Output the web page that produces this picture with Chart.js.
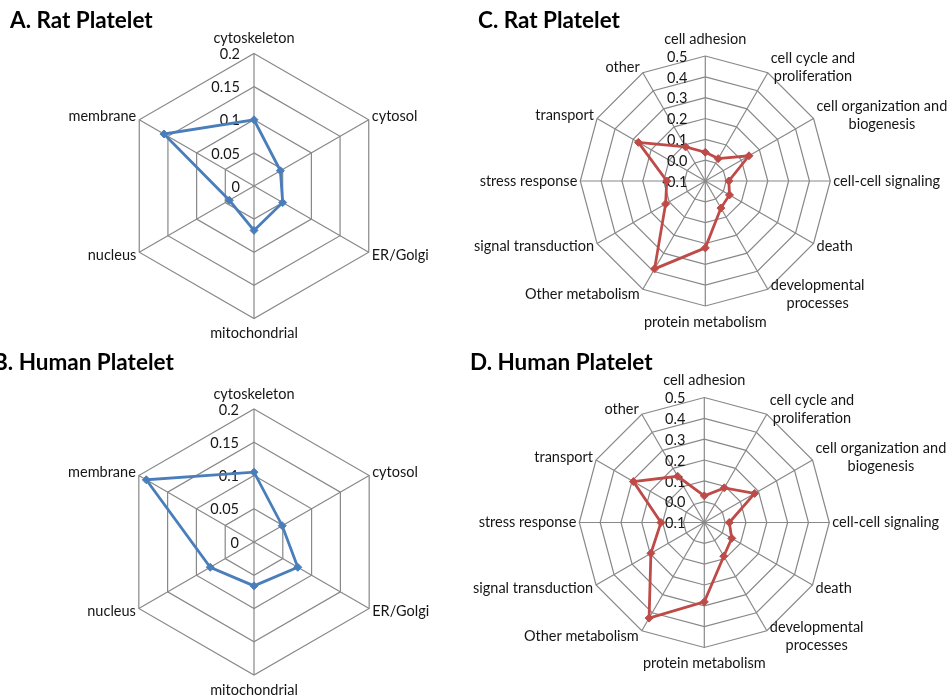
<!DOCTYPE html>
<html>
<head>
<meta charset="utf-8">
<script src="https://cdn.jsdelivr.net/npm/chart.js@4.4.1/dist/chart.umd.min.js"></script>
<style>
  html, body { margin: 0; padding: 0; background: #ffffff; overflow: hidden; }
  body { width: 949px; height: 698px; position: relative; }
  canvas { position: absolute; }
</style>
</head>
<body>
<canvas id="cA" width="470" height="345" style="left:0px;top:0px;"></canvas>
<canvas id="cC" width="479" height="345" style="left:470px;top:0px;"></canvas>
<canvas id="cB" width="480" height="353" style="left:-10px;top:345px;"></canvas>
<canvas id="cD" width="479" height="353" style="left:470px;top:345px;"></canvas>
<script>
// ---------- data ----------
const compartmentLabels = ['cytoskeleton', 'cytosol', 'ER/Golgi', 'mitochondrial', 'nucleus', 'membrane'];
const ratCompartment   = [0.100, 0.046, 0.050, 0.067, 0.043, 0.157];
const humanCompartment = [0.105, 0.049, 0.076, 0.066, 0.076, 0.187];
const compartmentTickValues = [0, 0.05, 0.1, 0.15, 0.2];
const compartmentTickLabels = ['0', '0.05', '0.1', '0.15', '0.2'];

const processLabels = [
  'cell adhesion',
  ['cell cycle and', 'proliferation'],
  ['cell organization and', 'biogenesis'],
  'cell-cell signaling',
  'death',
  ['developmental', 'processes'],
  'protein metabolism',
  'Other metabolism',
  'signal transduction',
  'stress response',
  'transport',
  'other'
];
const ratProcess   = [0.038, 0.024, 0.142, 0.013, 0.034, 0.050, 0.221, 0.387, 0.120, 0.085, 0.271, 0.089];
const humanProcess = [0.028, 0.092, 0.179, 0.020, 0.052, 0.087, 0.281, 0.430, 0.196, 0.108, 0.293, 0.156];
const processTickValues = [-0.1, 0.0, 0.1, 0.2, 0.3, 0.4, 0.5];
const processTickLabels = ['-0.1', '0.0', '0.1', '0.2', '0.3', '0.4', '0.5'];

const titles = ['A. Rat Platelet', 'B. Human Platelet', 'C. Rat Platelet', 'D. Human Platelet'];

// ---------- styles ----------
const BLUE = '#4A7EBB';
const RED = '#BE4B48';
const GRID = '#888888';
const TEXT = '#151515';
const FONT = 'Lato, "Open Sans", sans-serif';
const LABEL_SIZE = 14.5;

const radarText = {
  id: 'radarText',
  beforeDatasetsDraw(chart, args, o) {
    const s = chart.scales.r;
    const ctx = chart.ctx;
    ctx.save();
    ctx.font = LABEL_SIZE + 'px ' + FONT;
    ctx.fillStyle = TEXT;
    ctx.textBaseline = 'middle';
    ctx.textAlign = 'right';
    o.tickValues.forEach((v, k) => {
      const d = s.getDistanceFromCenterForValue(v);
      ctx.fillText(o.tickLabels[k], s.xCenter - o.tickGap, s.yCenter - d + 1);
    });
    const labels = chart.data.labels;
    const n = labels.length;
    const LH = 18;
    labels.forEach((lab, i) => {
      const lines = Array.isArray(lab) ? lab : [lab];
      const p = s.getPointPosition(i, s.drawingArea);
      const ang = i * 360 / n;
      const h = lines.length * LH;
      const w = Math.max(...lines.map(l => ctx.measureText(l).width));
      let tx, ty;
      if (ang === 0) { tx = p.x; ty = p.y - o.topGap; }
      else if (ang === 180) { tx = p.x; ty = p.y + o.bottomGap; }
      else if (ang < 180) { tx = p.x + 3 + w / 2; ty = p.y - 6 * Math.cos(ang * Math.PI / 180); }
      else { tx = p.x - 3 - w / 2; ty = p.y - 6 * Math.cos(ang * Math.PI / 180); }
      ctx.textAlign = 'center';
      lines.forEach((l, k) => ctx.fillText(l, tx, ty - h / 2 + LH / 2 + k * LH));
    });
    ctx.restore();
  }
};

function makeChart(id, title, labels, values, color, min, max, tickValues, tickLabels, geom) {
  return new Chart(document.getElementById(id), {
    type: 'radar',
    data: {
      labels: labels,
      datasets: [{
        data: values,
        borderColor: color,
        backgroundColor: 'transparent',
        borderWidth: 2.8,
        fill: false,
        clip: false,
        pointStyle: 'rectRot',
        pointRadius: 4,
        pointBackgroundColor: color,
        pointBorderColor: color,
        pointBorderWidth: 1
      }]
    },
    options: {
      responsive: false,
      animation: false,
      devicePixelRatio: 1,
      layout: { padding: { left: geom.titleX, top: 0, right: 0, bottom: 0 } },
      plugins: {
        legend: { display: false },
        tooltip: { enabled: false },
        title: {
          display: true,
          text: title,
          align: 'start',
          color: '#000000',
          font: { family: FONT, size: 22.5, weight: 'bold' },
          padding: { top: geom.titleTop, bottom: 0 }
        },
        radarText: {
          tickValues: tickValues, tickLabels: tickLabels,
          tickGap: geom.tickGap, topGap: geom.topGap, bottomGap: geom.bottomGap
        }
      },
      scales: {
        r: {
          min: min,
          max: max,
          startAngle: 0,
          afterBuildTicks: (s) => { s.ticks = tickValues.map(v => ({ value: v })); },
          afterFit: (s) => { s.xCenter = geom.cx; s.yCenter = geom.cy; s.drawingArea = geom.R; },
          ticks: { display: false },
          pointLabels: { display: false },
          grid: { color: GRID, lineWidth: 1.2, circular: false },
          angleLines: { color: GRID, lineWidth: 1.2 }
        }
      }
    },
    plugins: [radarText]
  });
}

function drawAll() {
  makeChart('cA', titles[0], compartmentLabels, ratCompartment, BLUE, 0, 0.2,
    compartmentTickValues, compartmentTickLabels,
    { cx: 254, cy: 186, R: 132.5, titleX: 10, titleTop: 7, tickGap: 14, topGap: 15, bottomGap: 15 });
  makeChart('cB', titles[1], compartmentLabels, humanCompartment, BLUE, 0, 0.2,
    compartmentTickValues, compartmentTickLabels,
    { cx: 264, cy: 197, R: 133, titleX: 3, titleTop: 4, tickGap: 15, topGap: 15, bottomGap: 15 });
  makeChart('cC', titles[2], processLabels, ratProcess, RED, -0.1, 0.5,
    processTickValues, processTickLabels,
    { cx: 235.3, cy: 181, R: 125, titleX: 8, titleTop: 7, tickGap: 18, topGap: 17, bottomGap: 16 });
  makeChart('cD', titles[3], processLabels, humanProcess, RED, -0.1, 0.5,
    processTickValues, processTickLabels,
    { cx: 234.3, cy: 177.5, R: 125, titleX: 0, titleTop: 4, tickGap: 19, topGap: 17, bottomGap: 16 });
}

if (document.fonts && document.fonts.load) {
  Promise.all([document.fonts.load('14.5px Lato'), document.fonts.load('bold 22.5px Lato')])
    .then(drawAll, drawAll);
} else {
  drawAll();
}
</script>
</body>
</html>
